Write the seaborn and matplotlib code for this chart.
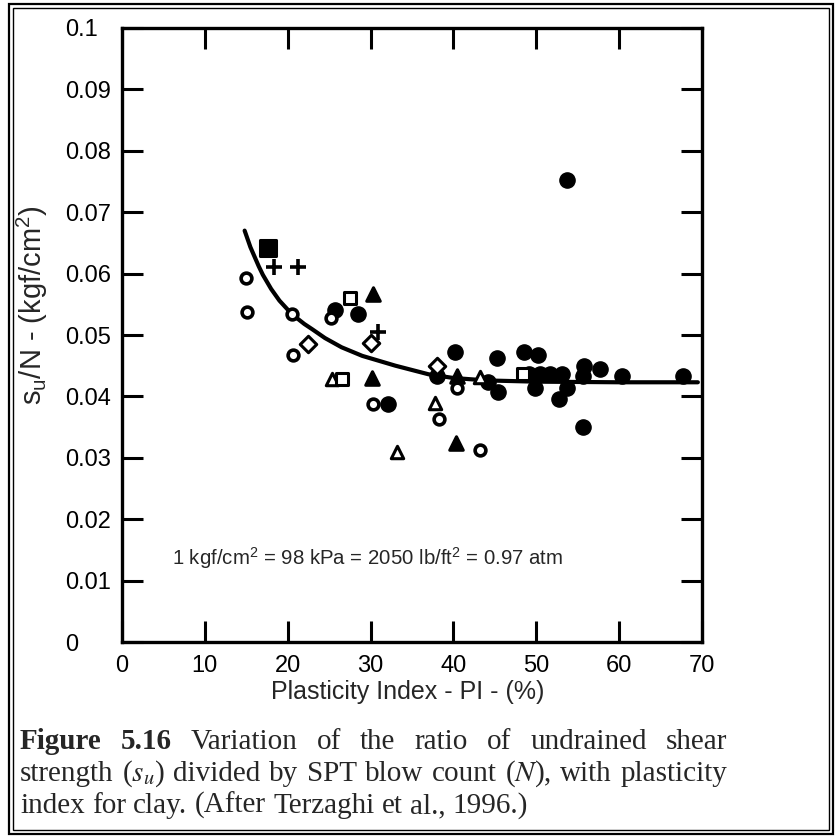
import matplotlib
matplotlib.use("Agg")
import matplotlib.pyplot as plt
import seaborn as sns
import pandas as pd
from matplotlib.patches import Rectangle

# ---------------- data ----------------
filled_circle_pi = [25.7, 28.5, 32.1, 38.0, 40.2, 44.2, 45.3, 45.4, 48.5, 50.2,
                    49.1, 50.4, 51.7, 53.1, 49.8, 52.8, 53.7, 55.7, 55.6, 55.6,
                    57.7, 60.4, 67.7, 53.7]
filled_circle_r = [0.0540, 0.0534, 0.0388, 0.0433, 0.0472, 0.0423, 0.0463, 0.0407, 0.0472, 0.0467,
                   0.0437, 0.0437, 0.0437, 0.0437, 0.0413, 0.0396, 0.0413, 0.0450, 0.0434, 0.0350,
                   0.0445, 0.0433, 0.0433, 0.0753]

open_circle_pi = [15.0, 15.1, 20.5, 20.6, 25.2, 30.3, 38.2, 40.4, 43.2]
open_circle_r = [0.0593, 0.0537, 0.0534, 0.0468, 0.0528, 0.0388, 0.0364, 0.0414, 0.0312]

open_triangle_pi = [25.3, 33.2, 37.8, 43.2]
open_triangle_r = [0.0429, 0.0309, 0.0389, 0.0431]

filled_triangle_pi = [30.3, 30.2, 40.4, 40.3]
filled_triangle_r = [0.0566, 0.0430, 0.0434, 0.0324]

open_square_pi = [26.5, 27.5, 48.4]
open_square_r = [0.0429, 0.0560, 0.0437]

filled_square_pi = [17.6]
filled_square_r = [0.0642]

plus_pi = [18.3, 21.3, 30.9]
plus_r = [0.0610, 0.0611, 0.0505]

diamond_pi = [22.5, 30.1, 38.0]
diamond_r = [0.0485, 0.0487, 0.0450]

# trend curve
curve_pi = [14.8, 15.5, 16.5, 17.0, 18.0, 19.0, 20.5, 22.0, 23.0, 24.5, 26.5, 29.0, 31.0, 33.0,
            35.0, 37.0, 40.0, 44.0, 50.0, 60.0, 69.5]
curve_r = [0.0670, 0.0643, 0.0612, 0.0598, 0.0575, 0.0556, 0.0534, 0.0518, 0.0509, 0.0495,
           0.0480, 0.0466, 0.0458, 0.0450, 0.0443, 0.0436, 0.0430, 0.0426, 0.0424, 0.0423, 0.0423]

x_ticks = [0, 10, 20, 30, 40, 50, 60, 70]
y_ticks = [0, 0.01, 0.02, 0.03, 0.04, 0.05, 0.06, 0.07, 0.08, 0.09, 0.1]
y_tick_labels = ["0", "0.01", "0.02", "0.03", "0.04", "0.05", "0.06", "0.07", "0.08", "0.09", "0.1"]

# ---------------- style ----------------
sns.set_style("ticks")
plt.rcParams['font.family'] = ['Liberation Sans', 'DejaVu Sans']
plt.rcParams['mathtext.fontset'] = 'custom'
plt.rcParams['mathtext.rm'] = 'Liberation Sans'
plt.rcParams['mathtext.it'] = 'Liberation Sans:italic'

W, H = 836, 838
fig = plt.figure(figsize=(W / 100, H / 100), dpi=100)
fig.patch.set_facecolor('white')
ax = fig.add_axes([122 / W, 1 - 642 / H, 580 / W, 614 / H])
ax.set_facecolor('white')

LW = 2.2
SZ = 95

def scatter(px, py, marker, filled, s=SZ, lw=LW):
    df = pd.DataFrame({"pi": px, "ratio": py})
    if marker == '+':
        sns.scatterplot(data=df, x="pi", y="ratio", marker='+', s=s * 1.3,
                        color='black', linewidth=2.6, ax=ax, zorder=4)
    else:
        sns.scatterplot(data=df, x="pi", y="ratio", marker=marker, s=s,
                        facecolor='black' if filled else 'white',
                        edgecolor='black', linewidth=lw, ax=ax, zorder=4)

sns.lineplot(x=curve_pi, y=curve_r, color='black', linewidth=3.0, ax=ax, zorder=3)

scatter(filled_circle_pi, filled_circle_r, 'o', True, s=120, lw=1)
scatter(open_circle_pi, open_circle_r, 'o', False, s=60, lw=2.6)
scatter(open_triangle_pi, open_triangle_r, '^', False, s=80)
scatter(filled_triangle_pi, filled_triangle_r, '^', True, s=95)
scatter(open_square_pi, open_square_r, 's', False, s=85)
scatter(filled_square_pi, filled_square_r, 's', True, s=120)
scatter(plus_pi, plus_r, '+', True)
scatter(diamond_pi, diamond_r, 'D', False, s=70)

ax.set_xlim(0, 70)
ax.set_ylim(0, 0.1)
ax.set_xticks(x_ticks)
ax.set_xticklabels([str(t) for t in x_ticks])
ax.set_yticks(y_ticks)
ax.set_yticklabels(y_tick_labels)

for sp in ax.spines.values():
    sp.set_visible(True)
    sp.set_linewidth(2.4)
    sp.set_color('black')

ax.tick_params(axis='both', which='major', direction='in', length=15, width=2.2,
               top=True, right=True, labelsize=17, colors='black')
ax.tick_params(axis='x', pad=9)
ax.tick_params(axis='y', pad=41)
for lab in ax.get_yticklabels():
    lab.set_horizontalalignment('left')

ax.set_xlabel("Plasticity Index - PI - (%)", fontsize=18)
ax.xaxis.set_label_coords((408 - 122) / 580, (642 - 680) / 614)
ax.set_ylabel(r"s$_\mathregular{u}$/N - (kgf/cm$^\mathregular{2}$)", fontsize=21)
ax.yaxis.set_label_coords((50 - 122) / 580, (642 - 305) / 614)

ax.text(6.0, 0.0125,
        r"1 kgf/cm$^\mathregular{2}$ = 98 kPa = 2050 lb/ft$^\mathregular{2}$ = 0.97 atm",
        fontsize=14.7, ha='left', va='baseline')

# ---------------- caption (justified) ----------------
serif = ['Liberation Serif', 'DejaVu Serif']
CAP_FS = 21
renderer = fig.canvas.get_renderer()

def caption_line(words, y_px, x0=20, x1=727, justify=True):
    texts = []
    for w, bold in words:
        t = fig.text(0, 1 - y_px / H, w, fontsize=CAP_FS, family=serif,
                     fontweight='bold' if bold else 'normal',
                     math_fontfamily='stix', ha='left', va='baseline')
        texts.append(t)
    widths = [t.get_window_extent(renderer).width for t in texts]
    if justify and len(texts) > 1:
        gap = (x1 - x0 - sum(widths)) / (len(texts) - 1)
    else:
        gap = 0.25 * CAP_FS * 100 / 72
    x = x0
    for t, wd in zip(texts, widths):
        t.set_x(x / W)
        x += wd + gap

line1 = [("Figure", True), ("5.16", True), ("Variation", False), ("of", False),
         ("the", False), ("ratio", False), ("of", False), ("undrained", False), ("shear", False)]
line2 = [("strength", False), (r"($s_u$)", False), ("divided", False), ("by", False),
         ("SPT", False), ("blow", False), ("count", False), (r"($N$),", False),
         ("with", False), ("plasticity", False)]
line3 = [("index", False), ("for", False), ("clay.", False), ("(After", False),
         ("Terzaghi", False), ("et", False), ("al.,", False), ("1996.)", False)]
caption_line(line1, 749)
caption_line(line2, 781)
caption_line(line3, 813, justify=False)

# ---------------- double frame ----------------
fig.add_artist(Rectangle((9 / W, 1 - 834 / H), (833 - 9) / W, (834 - 4) / H,
                         transform=fig.transFigure, fill=False, edgecolor='black', linewidth=1.6))
fig.add_artist(Rectangle((13 / W, 1 - 830 / H), (829 - 13) / W, (830 - 8) / H,
                         transform=fig.transFigure, fill=False, edgecolor='black', linewidth=1.0))

fig.savefig("out.png", dpi=100, facecolor='white')
